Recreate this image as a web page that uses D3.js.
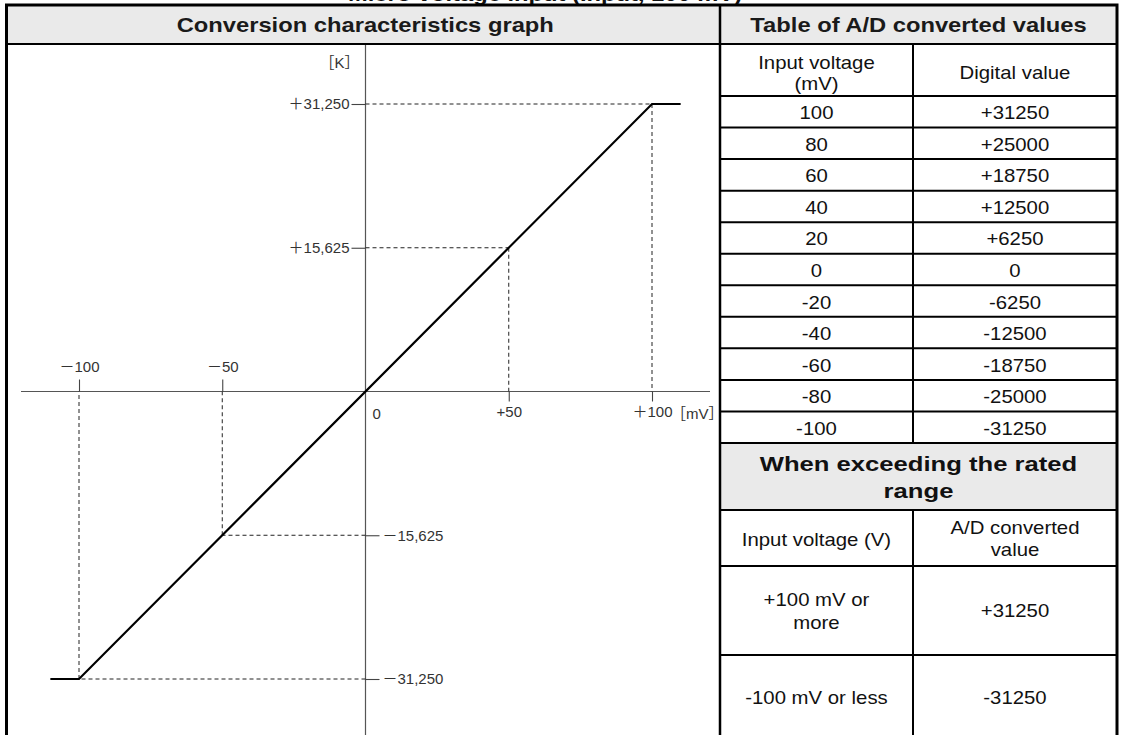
<!DOCTYPE html>
<html>
<head>
<meta charset="utf-8">
<script src="https://cdn.jsdelivr.net/npm/d3@7"></script>
<style>
  html, body { margin: 0; padding: 0; background: #fff; }
  svg { display: block; }
  text { font-family: "Liberation Sans", Arial, "Noto Sans CJK JP", sans-serif; }
</style>
</head>
<body>
<svg id="chart" width="1121" height="735"></svg>
<script>
// ---------- data ----------
const charX = [-110, -100, 100, 110];          // mV (characteristic line)
const charY = [-31250, -31250, 31250, 31250];  // digital value
const guideX = [100, 50, -50, -100];
const guideY = [31250, 15625, -15625, -31250];
const yPosTicks = [31250, 15625];
const yPosLabels = ["＋31,250", "＋15,625"];
const yNegTicks = [-15625, -31250];
const yNegLabels = ["－15,625", "－31,250"];
const xNegTicks = [-100, -50];
const xNegLabels = ["－100", "－50"];
const xPosTicks = [50, 100];
const xPosLabels = ["+50", "＋100"];
const inputMv = ["100", "80", "60", "40", "20", "0", "-20", "-40", "-60", "-80", "-100"];
const digitalVal = ["+31250", "+25000", "+18750", "+12500", "+6250", "0", "-6250", "-12500", "-18750", "-25000", "-31250"];
const overInput = [["+100 mV or", "more"], ["-100 mV or less"]];
const overValue = ["+31250", "-31250"];

// ---------- layout ----------
const svg = d3.select("#chart");
const L = 6.5, R = 1117, T = 5, B = 745;
const divX = 720, colX = 913, headB = 44;
const grey = "#eaeaea";

// horizontal stretch to imitate the reference's wide lettering
function stretch(sel, k) {
  sel.each(function () {
    const w = this.getComputedTextLength();
    d3.select(this).attr("textLength", w * k).attr("lengthAdjust", "spacingAndGlyphs");
  });
  return sel;
}

const x = d3.scaleLinear().domain([-100, 100]).range([79, 652]);
const y = d3.scaleLinear().domain([-31250, 31250]).range([679, 104]);
const x0 = x(0), y0 = y(0);

// cropped caption above
svg.append("text").attr("x", 545).attr("y", 1).attr("text-anchor", "middle")
  .attr("font-size", 21).attr("font-weight", "bold").attr("fill", "#111")
  .text("Micro voltage input (Input, 100 mV)").call(stretch, 1.13);

// header backgrounds
svg.append("rect").attr("x", L).attr("y", T).attr("width", R - L).attr("height", headB - T).attr("fill", grey);
svg.append("rect").attr("x", divX).attr("y", 443).attr("width", R - divX).attr("height", 510 - 443).attr("fill", grey);

svg.append("text").attr("x", (L + divX) / 2 + 2).attr("y", 32).attr("text-anchor", "middle")
  .attr("font-size", 21).attr("font-weight", "bold").attr("fill", "#1a1a1a")
  .text("Conversion characteristics graph").call(stretch, 1.13);
svg.append("text").attr("x", (divX + R) / 2).attr("y", 32).attr("text-anchor", "middle")
  .attr("font-size", 21).attr("font-weight", "bold").attr("fill", "#1a1a1a")
  .text("Table of A/D converted values").call(stretch, 1.13);

// ---------- chart ----------
const g = svg.append("g");
g.append("line").attr("x1", 21).attr("x2", 710).attr("y1", y0).attr("y2", y0)
  .attr("stroke", "#555").attr("stroke-width", 1.2);
g.append("line").attr("x1", x0).attr("x2", x0).attr("y1", headB).attr("y2", B)
  .attr("stroke", "#555").attr("stroke-width", 1.2);

// dashed guides
guideX.forEach((gx, i) => {
  const gy = guideY[i];
  g.append("line").attr("x1", x0).attr("x2", x(gx)).attr("y1", y(gy)).attr("y2", y(gy))
    .attr("stroke", "#222").attr("stroke-width", 1).attr("stroke-dasharray", "4,3");
  g.append("line").attr("x1", x(gx)).attr("x2", x(gx)).attr("y1", y(gy)).attr("y2", y0)
    .attr("stroke", "#222").attr("stroke-width", 1).attr("stroke-dasharray", "4,3");
});

function styleAxis(sel) {
  sel.select(".domain").remove();
  sel.selectAll(".tick line").attr("stroke", "#444").attr("stroke-width", 1.1);
  sel.selectAll(".tick text").attr("font-size", 15).attr("fill", "#333")
    .attr("font-family", "'Liberation Sans', Arial, 'Noto Sans CJK JP', sans-serif");
}
g.append("g").attr("transform", `translate(${x0},0)`)
  .call(d3.axisLeft(y).tickValues(yPosTicks).tickFormat((d, i) => yPosLabels[i]).tickSize(14).tickPadding(2))
  .call(styleAxis);
g.append("g").attr("transform", `translate(${x0},0)`)
  .call(d3.axisRight(y).tickValues(yNegTicks).tickFormat((d, i) => yNegLabels[i]).tickSize(14).tickPadding(3))
  .call(styleAxis);
g.append("g").attr("transform", `translate(0,${y0})`)
  .call(d3.axisTop(x).tickValues(xNegTicks).tickFormat((d, i) => xNegLabels[i]).tickSize(12).tickPadding(8))
  .call(styleAxis);
g.append("g").attr("transform", `translate(0,${y0})`)
  .call(d3.axisBottom(x).tickValues(xPosTicks).tickFormat((d, i) => xPosLabels[i]).tickSize(10).tickPadding(5))
  .call(styleAxis);

g.append("text").attr("x", x0 + 7).attr("y", y0 + 27).attr("font-size", 15).attr("fill", "#333").text("0");
g.append("text").attr("x", 671).attr("y", y0 + 27).attr("font-size", 15).attr("fill", "#333").text("［mV］");
g.append("text").attr("x", x0 - 6).attr("y", 68).attr("text-anchor", "end").attr("font-size", 15).attr("fill", "#333").text("［K］");

// characteristic line
const pts = charX.map((d, i) => [d, charY[i]]);
g.append("path").datum(pts)
  .attr("d", d3.line().x(d => x(d[0])).y(d => y(d[1])))
  .attr("fill", "none").attr("stroke", "#000").attr("stroke-width", 2.2);

// ---------- table ----------
const t = svg.append("g").attr("fill", "#111");
const rowTop = 96, rowH = (443 - 96) / inputMv.length;
const c1 = (divX + colX) / 2, c2 = (colX + R) / 2;

function txt(xp, yp, s, opts = {}) {
  return t.append("text").attr("x", xp).attr("y", yp).attr("text-anchor", "middle")
    .attr("dominant-baseline", "central")
    .attr("font-weight", opts.bold ? "bold" : null)
    .attr("font-size", opts.size || 18.5).text(s)
    .call(stretch, opts.k || 1.1);
}
txt(c1, 62, "Input voltage");
txt(c1, 83, "(mV)");
txt(c2, 72, "Digital value");

inputMv.forEach((v, i) => {
  const cy = rowTop + rowH * (i + 0.5) + 1;
  txt(c1, cy, v);
  txt(c2, cy, digitalVal[i]);
});

txt((divX + R) / 2, 463, "When exceeding the rated", { bold: true, size: 21, k: 1.22 });
txt((divX + R) / 2, 490, "range", { bold: true, size: 21, k: 1.22 });

txt(c1, 539, "Input voltage (V)");
txt(c2, 527, "A/D converted");
txt(c2, 549, "value");

const overRows = [[566, 655], [655, 740]];
overRows.forEach((r, i) => {
  const cy = (r[0] + r[1]) / 2;
  const lines = overInput[i];
  lines.forEach((s, j) => txt(c1, cy + (j - (lines.length - 1) / 2) * 23, s));
  txt(c2, cy, overValue[i]);
});

// table grid lines
const lines = svg.append("g").attr("stroke", "#000");
for (let i = 0; i <= inputMv.length; i++) {
  const yy = rowTop + rowH * i;
  lines.append("line").attr("x1", divX).attr("x2", R).attr("y1", yy).attr("y2", yy).attr("stroke-width", 2);
}
[510, 566, 655].forEach(yy =>
  lines.append("line").attr("x1", divX).attr("x2", R).attr("y1", yy).attr("y2", yy).attr("stroke-width", 2));
lines.append("line").attr("x1", L).attr("x2", R).attr("y1", headB).attr("y2", headB).attr("stroke-width", 2);
lines.append("line").attr("x1", colX).attr("x2", colX).attr("y1", headB).attr("y2", 443).attr("stroke-width", 2);
lines.append("line").attr("x1", colX).attr("x2", colX).attr("y1", 510).attr("y2", B).attr("stroke-width", 2);
lines.append("line").attr("x1", divX).attr("x2", divX).attr("y1", T).attr("y2", B).attr("stroke-width", 2.5);
svg.append("rect").attr("x", L).attr("y", T).attr("width", R - L).attr("height", B - T)
  .attr("fill", "none").attr("stroke", "#000").attr("stroke-width", 3);
</script>
</body>
</html>
